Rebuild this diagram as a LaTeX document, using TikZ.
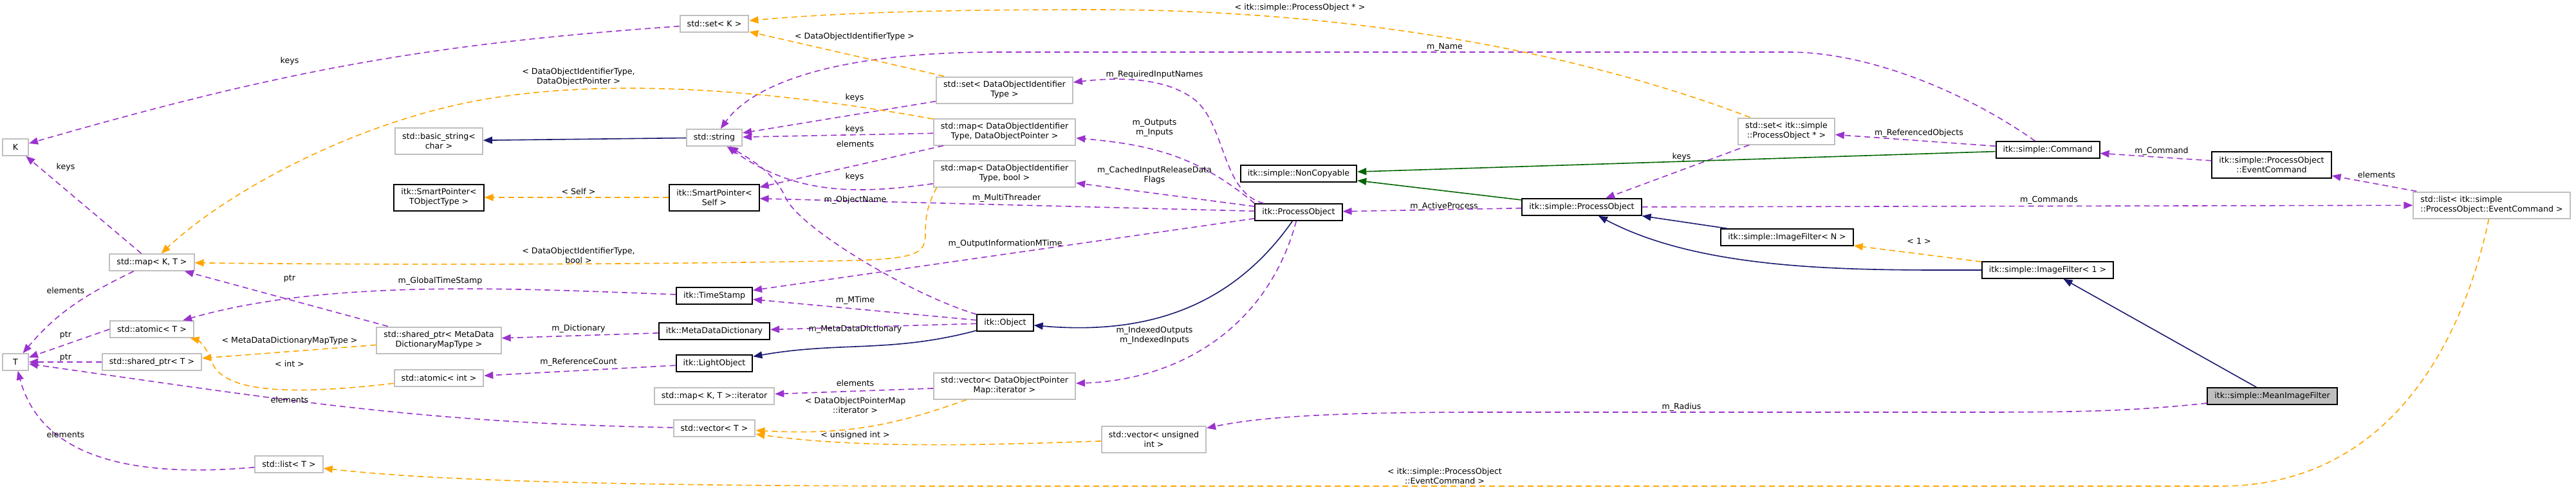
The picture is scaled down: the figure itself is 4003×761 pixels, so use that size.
\documentclass[tikz,border=0pt]{standalone}
\usepackage{fontspec}
\setmainfont{DejaVu Sans}
\usetikzlibrary{arrows.meta}

\definecolor{usecol}{HTML}{9A32CD}
\definecolor{tmplcol}{HTML}{FFA500}
\definecolor{inhcol}{HTML}{191970}
\definecolor{protcol}{HTML}{006400}
\definecolor{extcol}{HTML}{BFBFBF}

\tikzset{
  cls/.style={draw=black, line width=1pt, fill=white, rectangle,
    inner xsep=5.5pt, inner ysep=2pt, minimum height=12.8pt, align=center},
  ext/.style={cls, draw=extcol},
  two/.style={minimum height=20.5pt},
  mainbox/.style={cls, fill=extcol},
  lbl/.style={inner sep=0pt, align=center},
  useedge/.style={->, draw=usecol, line width=0.8pt, dash pattern=on 4.5pt off 3pt},
  tmpledge/.style={->, draw=tmplcol, line width=0.8pt, dash pattern=on 4.5pt off 3pt},
  inhedge/.style={->, draw=inhcol, line width=0.8pt},
  protedge/.style={->, draw=protcol, line width=0.8pt},
}

\begin{document}
\begin{tikzpicture}[x=0.5pt, y=0.5pt, >={Triangle[length=7pt,width=5.5pt]},
    font=\fontsize{6.3pt}{7.5pt}\selectfont]
    \useasboundingbox (0,0) rectangle (4003,-761);

    % std containers on the left
    \node[ext, minimum width=20pt] (K) at (24,-229) {K};
    \node[ext, minimum width=20pt] (T) at (24,-563) {T};
    \node[ext] (mapKT) at (236,-408) {std::map< K, T >};
    \node[ext] (atomicT) at (236,-512) {std::atomic< T >};
    \node[ext] (sharedT) at (236,-563) {std::shared\_ptr< T >};
    \node[ext] (listT) at (449,-722) {std::list< T >};

    \node[ext, two] (basicStr) at (682,-219) {std::basic\_string<\\char >};
    \node[cls, two] (spT) at (682,-307) {itk::SmartPointer<\\TObjectType >};
    \node[ext, two] (spMD) at (682,-529) {std::shared\_ptr< MetaData\\DictionaryMapType >};
    \node[ext] (atomicInt) at (682,-588) {std::atomic< int >};

    \node[ext] (setK) at (1110,-37) {std::set< K >};
    \node[ext] (str) at (1110,-214) {std::string};
    \node[cls, two] (spSelf) at (1110,-307) {itk::SmartPointer<\\Self >};
    \node[cls] (timeStamp) at (1110,-460) {itk::TimeStamp};
    \node[cls] (mdd) at (1110,-515) {itk::MetaDataDictionary};
    \node[cls] (light) at (1110,-565) {itk::LightObject};
    \node[ext] (mapIter) at (1110,-616) {std::map< K, T >::iterator};
    \node[ext] (vecT) at (1110,-666) {std::vector< T >};

    % ProcessObject members
    \node[ext, two] (setDOI) at (1561,-140) {std::set< DataObjectIdentifier\\Type >};
    \node[ext, two] (mapDOP) at (1561,-205) {std::map< DataObjectIdentifier\\Type, DataObjectPointer >};
    \node[ext, two] (mapBool) at (1561,-270) {std::map< DataObjectIdentifier\\Type, bool >};
    \node[cls] (obj) at (1562,-502) {itk::Object};
    \node[ext, two] (vecIter) at (1561,-600) {std::vector< DataObjectPointer\\Map::iterator >};
    \node[ext, two] (vecUInt) at (1793,-683) {std::vector< unsigned\\int >};

    \node[cls] (nonCopy) at (2018,-270) {itk::simple::NonCopyable};
    \node[cls] (itkPO) at (2018,-330) {itk::ProcessObject};
    \node[cls] (simplePO) at (2458,-322) {itk::simple::ProcessObject};
    \node[ext, two] (setPO) at (2776,-204) {std::set< itk::simple\\::ProcessObject * >};
    \node[cls] (imgN) at (2777,-369) {itk::simple::ImageFilter< N >};
    \node[cls] (cmd) at (3182,-233) {itk::simple::Command};
    \node[cls] (img1) at (3182,-420) {itk::simple::ImageFilter< 1 >};
    \node[cls, two] (evCmd) at (3530,-256) {itk::simple::ProcessObject\\::EventCommand};
    \node[ext, two, align=left] (listEC) at (3872,-319) {std::list< itk::simple\\::ProcessObject::EventCommand >};
    \node[mainbox] (mif) at (3531,-616) {itk::simple::MeanImageFilter};

    % usage (purple)
    \draw[useedge] (setK) to[out=184,in=16] (K);
    \draw[useedge] (mapKT) -- (K);
    \draw[useedge] (mapKT) to[out=206,in=50] (T);
    \draw[useedge] (atomicT.west) -- (T);
    \draw[useedge] (sharedT) -- (T);
    \draw[useedge] (vecT) to[out=179,in=-8] (T);
    \draw[useedge] (listT) to[out=185,in=-75] (T);
    \draw[useedge] (spMD) -- (mapKT);
    \draw[useedge] (timeStamp) to[out=178,in=16,looseness=0.8] (atomicT);
    \draw[useedge] (mdd) -- (spMD);
    \draw[useedge] (light) -- (atomicInt);
    \draw[useedge] (vecIter) -- (mapIter);
    \draw[useedge] (setDOI) -- (str);
    \draw[useedge] (mapDOP) -- (str);
    \draw[useedge] (mapDOP) -- (spSelf);
    \draw[useedge] (mapBool) to[out=188,in=-35] (str);
    \draw[useedge] (cmd) .. controls (3050,-140) and (2900,-81) .. (2780,-81)
        -- (1550,-81) .. controls (1300,-81) and (1170,-130) .. (str);
    \draw[useedge] (obj) .. controls (1420,-460) and (1250,-360) .. (1222,-310)
        .. controls (1205,-270) and (1170,-250) .. (str);
    \draw[useedge] (itkPO) -- (spSelf);
    \draw[useedge] (itkPO) .. controls (1900,-300) and (1905,-200) .. (1860,-158)
        .. controls (1810,-115) and (1720,-122) .. (setDOI);
    \draw[useedge] (itkPO.north west) to[out=140,in=-5] (mapDOP);
    \draw[useedge] (itkPO) -- (mapBool);
    \draw[useedge] (itkPO) -- (timeStamp);
    \draw[useedge] (obj) -- (timeStamp);
    \draw[useedge] (obj) -- (mdd);
    \draw[useedge] (itkPO) to[out=-105,in=2] (vecIter);
    \draw[useedge] (simplePO) -- (itkPO);
    \draw[useedge] (simplePO) -- (listEC);
    \draw[useedge] (setPO) -- (simplePO);
    \draw[useedge] (cmd) -- (setPO);
    \draw[useedge] (evCmd) -- (cmd);
    \draw[useedge] (listEC) -- (evCmd);
    \draw[useedge] (mif) .. controls (3300,-641) and (3200,-641) .. (3050,-641)
        -- (2300,-641) .. controls (2050,-641) and (1950,-650) .. (vecUInt);

    % template instances (orange)
    \draw[tmpledge] (setDOI) -- (setK);
    \draw[tmpledge] (setPO) .. controls (2450,-80) and (2100,-15) .. (1700,-15)
        .. controls (1450,-15) and (1300,-20) .. (setK);
    \draw[tmpledge] (mapDOP) .. controls (1200,-140) and (950,-120) .. (750,-155)
        .. controls (550,-190) and (350,-300) .. (mapKT);
    \draw[tmpledge] ([xshift=3pt]mapBool.south west) .. controls (1440,-320) and (1438,-340) .. (1438,-365)
        .. controls (1438,-395) and (1420,-402) .. (1330,-405)
        .. controls (1000,-412) and (600,-412) .. (mapKT);
    \draw[tmpledge] (spMD) -- (sharedT);
    \draw[tmpledge] (atomicInt) .. controls (450,-615) and (350,-610) .. (330,-565)
        .. controls (320,-535) and (305,-528) .. (atomicT);
    \draw[tmpledge] (vecIter) to[out=200,in=-3] (vecT);
    \draw[tmpledge] (vecUInt) to[out=182,in=-8,looseness=0.8] (vecT);
    \draw[tmpledge] (listEC) .. controls (3830,-520) and (3720,-756) .. (3450,-756)
        -- (1500,-756) .. controls (900,-756) and (650,-745) .. (listT);
    \draw[tmpledge] (img1) -- (imgN);
    \draw[tmpledge] (spSelf) -- (spT);

    % inheritance
    \draw[inhedge] (str) -- (basicStr);
    \draw[inhedge] (obj) to[out=195,in=10] (light);
    \draw[inhedge] (itkPO) to[out=-125,in=-5] (obj);
    \draw[inhedge] (imgN) -- (simplePO);
    \draw[inhedge] (img1) to[out=180,in=-28,looseness=0.8] (simplePO);
    \draw[inhedge] (mif) -- (img1);
    \draw[protedge] (simplePO) -- (nonCopy);
    \draw[protedge] (cmd) -- (nonCopy);

    % edge labels
    \node[lbl] (lKeysSetK) at (450,-95) {keys};
    \node[lbl] (lKeysMap) at (102,-260) {keys};
    \node[lbl] (lElemMap) at (102,-452) {elements};
    \node[lbl] (lPtrAtomic) at (102,-521) {ptr};
    \node[lbl] (lPtrShared) at (102,-556) {ptr};
    \node[lbl] (lElemVec) at (450,-622) {elements};
    \node[lbl] (lElemList) at (102,-676) {elements};
    \node[lbl] (lPtrMD) at (450,-433) {ptr};
    \node[lbl] (lMDMap) at (450,-530) {< MetaDataDictionaryMapType >};
    \node[lbl] (lInt) at (450,-566) {< int >};
    \node[lbl] (lGlobal) at (684,-437) {m\_GlobalTimeStamp};
    \node[lbl] (lDOPtr) at (899,-120) {< DataObjectIdentifierType,\\DataObjectPointer >};
    \node[lbl] (lSelf) at (899,-298) {< Self >};
    \node[lbl] (lDOBool) at (899,-397) {< DataObjectIdentifierType,\\bool >};
    \node[lbl] (lDict) at (899,-511) {m\_Dictionary};
    \node[lbl] (lRefCount) at (899,-563) {m\_ReferenceCount};
    \node[lbl] (lDOId) at (1328,-57) {< DataObjectIdentifierType >};
    \node[lbl] (lKeysSet) at (1328,-152) {keys};
    \node[lbl] (lKeysDOP) at (1328,-201) {keys};
    \node[lbl] (lElemDOP) at (1329,-224) {elements};
    \node[lbl] (lKeysBool) at (1328,-275) {keys};
    \node[lbl] (lObjName) at (1329,-311) {m\_ObjectName};
    \node[lbl] (lMTime) at (1329,-467) {m\_MTime};
    \node[lbl] (lMDD) at (1329,-512) {m\_MetaDataDictionary};
    \node[lbl] (lElemIter) at (1329,-596) {elements};
    \node[lbl] (lPtrMap) at (1329,-630) {< DataObjectPointerMap\\::iterator >};
    \node[lbl] (lUInt) at (1329,-677) {< unsigned int >};
    \node[lbl] (lReqIn) at (1794,-116) {m\_RequiredInputNames};
    \node[lbl] (lOutIn) at (1794,-199) {m\_Outputs\\m\_Inputs};
    \node[lbl] (lCached) at (1794,-273) {m\_CachedInputReleaseData\\Flags};
    \node[lbl] (lThreader) at (1564,-308) {m\_MultiThreader};
    \node[lbl] (lOutInfo) at (1562,-379) {m\_OutputInformationMTime};
    \node[lbl] (lIndexed) at (1794,-522) {m\_IndexedOutputs\\m\_IndexedInputs};
    \node[lbl] (lPOPtr) at (2020,-12) {< itk::simple::ProcessObject * >};
    \node[lbl] (lName) at (2245,-73) {m\_Name};
    \node[lbl] (lActive) at (2244,-321) {m\_ActiveProcess};
    \node[lbl] (lKeysPO) at (2613,-244) {keys};
    \node[lbl] (lRefObj) at (2982,-207) {m\_ReferencedObjects};
    \node[lbl] (lOne) at (2982,-375) {< 1 >};
    \node[lbl] (lRadius) at (2613,-633) {m\_Radius};
    \node[lbl] (lEvCmd) at (2245,-740) {< itk::simple::ProcessObject\\::EventCommand >};
    \node[lbl] (lCommand) at (3359,-235) {m\_Command};
    \node[lbl] (lElemEC) at (3693,-272) {elements};
    \node[lbl] (lCommands) at (3184,-311) {m\_Commands};
\end{tikzpicture}
\end{document}
